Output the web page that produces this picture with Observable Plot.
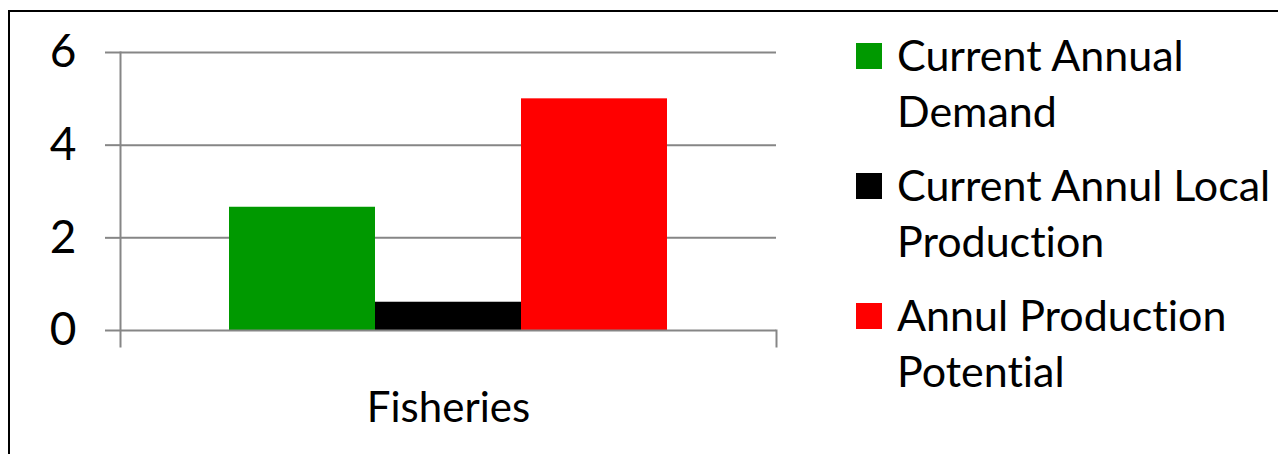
<!DOCTYPE html>
<html>
<head>
<meta charset="utf-8">
<script src="https://cdn.jsdelivr.net/npm/d3@7"></script>
<script src="https://cdn.jsdelivr.net/npm/@observablehq/plot@0.6"></script>
<style>
  html, body { margin: 0; padding: 0; background: #fff; }
  #wrap { position: relative; width: 1278px; height: 454px; overflow: hidden; font-family: Lato, "Open Sans", sans-serif; font-variant-ligatures: none; }
  #border { position: absolute; left: 8px; top: 10px; width: 1400px; height: 600px; border-left: 2px solid #000; border-top: 2px solid #000; box-sizing: border-box; pointer-events: none; }
  #legend { position: absolute; left: 856px; top: 27px; }
  .item { position: relative; padding-left: 41px; font-size: 43px; line-height: 56px; color: #000; margin-bottom: 18px; white-space: nowrap; font-variant-ligatures: none; }
  .sw { position: absolute; left: 0; top: 16px; width: 26px; height: 26px; }
  svg { position: absolute; left: 0; top: 0; font-variant-ligatures: none; }
</style>
</head>
<body>
<div id="wrap"><div id="border"></div><div id="legend"></div></div>
<script>
const categories = ["Fisheries"];
const series = ["Current Annual Demand", "Current Annul Local Production", "Annul Production Potential"];
const legendLines = [["Current Annual", "Demand"], ["Current Annul Local", "Production"], ["Annul Production", "Potential"]];
const values = [2.66, 0.61, 5.0];
const colors = ["#009900", "#000000", "#ff0000"];
const yTicks = [0, 2, 4, 6];

const data = series.map((s, i) => ({category: categories[0], series: s, value: values[i]}));

const W = 1278, H = 454;
const mL = 120, mR = 502, mT = 52, plotBottom = 330, axisBottom = 346;
const grey = "#868686";

const chart = Plot.plot({
  width: W,
  height: H,
  marginLeft: mL,
  marginRight: mR,
  marginTop: mT,
  marginBottom: H - axisBottom,
  style: {fontFamily: "Lato, 'Open Sans', sans-serif", background: "transparent", color: "#000"},
  fx: {domain: categories, padding: 0},
  x: {domain: series, paddingInner: 0, paddingOuter: 0.746},
  y: {domain: [0, 6], range: [plotBottom, mT]},
  color: {domain: series, range: colors},
  marks: [
    Plot.gridY(yTicks.filter(d => d > 0), {stroke: grey, strokeOpacity: 1, strokeWidth: 2}),
    Plot.barY(data, {fx: "category", x: "series", y: "value", fill: "series"}),
    Plot.ruleY([0], {stroke: grey, strokeWidth: 2}),
    Plot.frame({anchor: "left", stroke: grey, strokeWidth: 2}),
    Plot.frame({anchor: "right", stroke: grey, strokeWidth: 2, insetTop: plotBottom - mT}),
    Plot.axisY(yTicks, {tickSize: 15, tickPadding: 29, fontSize: 46, stroke: grey, strokeWidth: 2, label: null, tickFormat: d => String(d)}),
    Plot.axisFx({anchor: "bottom", tickSize: 0, tickPadding: 46, fontSize: 42, label: null}),
    Plot.axisX({ticks: [], label: null, tickSize: 0})
  ]
});
document.getElementById("wrap").appendChild(chart);

const legend = document.getElementById("legend");
series.forEach((s, i) => {
  const item = document.createElement("div");
  item.className = "item";
  const sw = document.createElement("div");
  sw.className = "sw";
  sw.style.background = colors[i];
  item.appendChild(sw);
  legendLines[i].forEach(line => {
    const l = document.createElement("div");
    l.textContent = line;
    item.appendChild(l);
  });
  legend.appendChild(item);
});
</script>
</body>
</html>
